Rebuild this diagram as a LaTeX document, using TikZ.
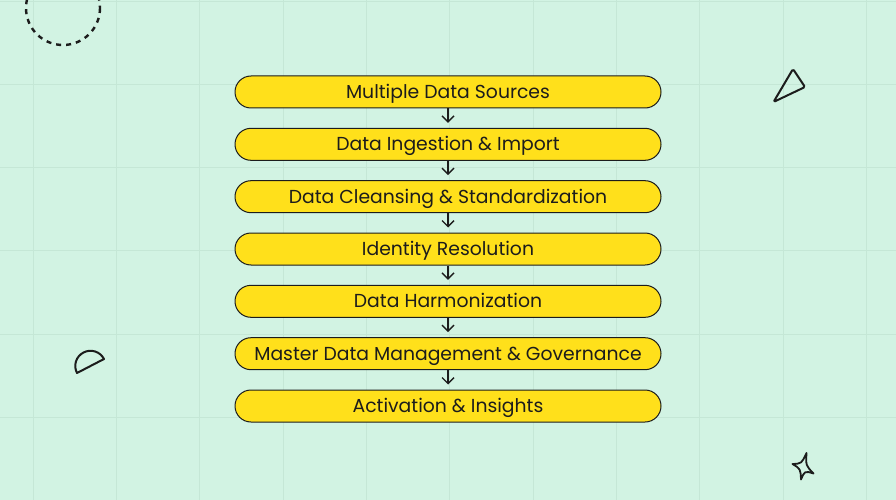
\documentclass[tikz,border=0pt]{standalone}
\usepackage{fontspec}
\setmainfont{Poppins}
\usetikzlibrary{arrows.meta}
\definecolor{bg}{HTML}{D2F3E3}
\definecolor{gridc}{HTML}{C5E7D6}
\definecolor{ybox}{HTML}{FFE01B}
\definecolor{ink}{HTML}{1C1C1C}
\begin{document}
\begin{tikzpicture}[x=1pt,y=-1pt,
  stage/.style={draw=ink, line width=1pt, fill=ybox, rounded corners=16pt,
    minimum width=426pt, minimum height=32pt, inner sep=0pt,
    text height=14pt, text depth=1pt,
    font=\fontsize{18.8}{22}\selectfont, text=ink},
  flow/.style={draw=ink, line width=1.4pt, shorten >=5pt,
    -{Straight Barb[length=6pt,width=12pt,line width=1.4pt]}},
  deco/.style={draw=ink, line width=2pt, line join=round, line cap=round},
  gridline/.style={draw=gridc, line width=0.9pt}]
\useasboundingbox (0,0) rectangle (896,500);
\fill[bg] (0,0) rectangle (896,500);
\begin{scope}
\clip (0,0) rectangle (896,500);
\foreach \x in {33.3,116.6,199.9,283.2,366.5,449.8,533.1,616.4,699.7,783,866.3}
  \draw[gridline] (\x,0) -- (\x,500);
\foreach \y in {1,84.3,167.6,250.9,334.2,417.5}
  \draw[gridline] (0,\y) -- (896,\y);
% dashed circle
\draw[deco, line cap=butt, line width=2.4pt, dash pattern=on 5pt off 5pt] (63,8) circle (37);
\end{scope}
% triangle
\draw[deco, rounded corners=1.5pt] (793,69) -- (805,87) -- (773.5,102) -- cycle;
% half disc
\draw[deco] (104,359) .. controls (100.1,351.5) and (91,348.6) .. (83.5,352.5)
  .. controls (76,356.4) and (73.1,365.5) .. (77,373) -- cycle;
% star
\draw[deco, line width=1.8pt] (806.5,453) .. controls (805.8,465.5) .. (813.5,473.5)
  .. controls (804.7,470.8) .. (801,479.5)
  .. controls (800.5,468.9) .. (792.5,464)
  .. controls (801.6,463.6) .. cycle;
% stages
\node[stage] (s1) at (448,92)  {Multiple Data Sources};
\node[stage] (s2) at (448,144.3) {Data Ingestion \& Import};
\node[stage] (s3) at (448,196.7) {Data Cleansing \& Standardization};
\node[stage] (s4) at (448,249) {Identity Resolution};
\node[stage] (s5) at (448,301.3) {Data Harmonization};
\node[stage] (s6) at (448,353.7) {Master Data Management \& Governance};
\node[stage] (s7) at (448,406) {Activation \& Insights};
\foreach \a/\b in {s1/s2,s2/s3,s3/s4,s4/s5,s5/s6,s6/s7}
  \draw[flow] (\a.south) -- (\b.north);
\end{tikzpicture}
\end{document}
